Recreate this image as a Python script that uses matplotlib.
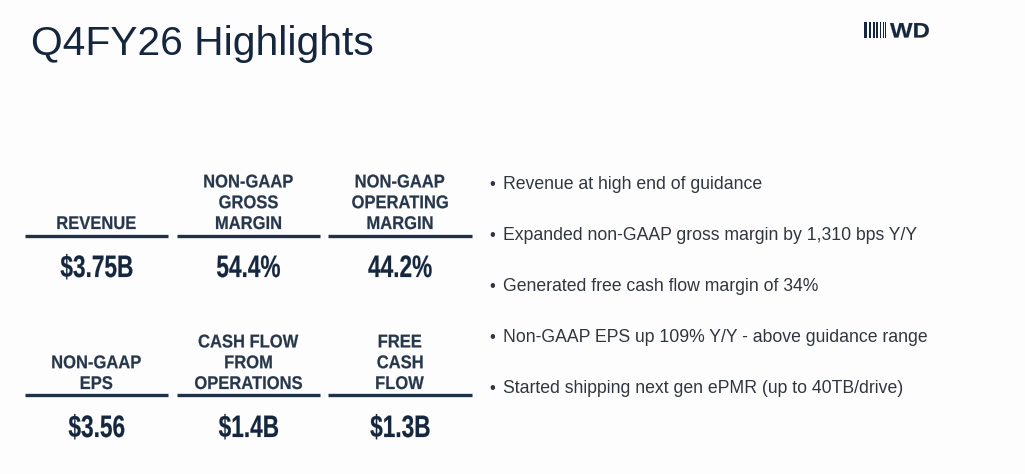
import matplotlib
matplotlib.use("Agg")
import matplotlib.pyplot as plt
from matplotlib.patches import Rectangle, PathPatch
from matplotlib.textpath import TextPath
from matplotlib.font_manager import FontProperties
from matplotlib.transforms import Affine2D

# ---- content ----
title = "Q4FY26 Highlights"
logo_text = "WD"
top_labels = [["REVENUE"], ["NON-GAAP", "GROSS", "MARGIN"], ["NON-GAAP", "OPERATING", "MARGIN"]]
top_values = ["$3.75B", "54.4%", "44.2%"]
bottom_labels = [["NON-GAAP", "EPS"], ["CASH FLOW", "FROM", "OPERATIONS"], ["FREE", "CASH", "FLOW"]]
bottom_values = ["$3.56", "$1.4B", "$1.3B"]
bullets = [
    "Revenue at high end of guidance",
    "Expanded non-GAAP gross margin by 1,310 bps Y/Y",
    "Generated free cash flow margin of 34%",
    "Non-GAAP EPS up 109% Y/Y - above guidance range",
    "Started shipping next gen ePMR (up to 40TB/drive)",
]

W, H = 1025, 474
NAVY = "#15273e"
LABEL = "#26364b"
LINE = "#1e3149"
BULLET = "#30363f"

fig = plt.figure(figsize=(W / 100, H / 100), dpi=100)
fig.patch.set_facecolor("#fdfdfd")
ax = fig.add_axes([0, 0, 1, 1])
ax.set_xlim(0, W)
ax.set_ylim(H, 0)
ax.axis("off")

SANS = ["Liberation Sans", "DejaVu Sans"]
BOLD = FontProperties(family="Liberation Sans", weight="bold")


def path_text(x, y, s, px, sx, color, ha="center", prop=BOLD):
    """Text drawn as a path (real glyph outlines) with horizontal condensing."""
    tp = TextPath((0, 0), s, size=px, prop=prop)
    bb = tp.get_extents()
    if ha == "center":
        off = -(bb.x0 + bb.width / 2) * sx
    elif ha == "left":
        off = -bb.x0 * sx
    else:
        off = -bb.x1 * sx
    tr = Affine2D().scale(sx, -1).translate(x + off, y) + ax.transData
    ax.add_patch(PathPatch(tp, transform=tr, facecolor=color, edgecolor=color, lw=0.15))


# title
ax.text(31, 55, title, fontsize=29.3, color=NAVY, family=SANS, va="baseline", ha="left")

# logo
bar_specs = [(864, 3.3), (868.5, 2.7), (872.5, 2.3), (876.3, 1.9), (879.6, 1.6), (882.6, 1.3), (885.3, 1.0)]
for bx, bw in bar_specs:
    ax.add_patch(Rectangle((bx, 22), bw, 15.5, color=NAVY, lw=0))
path_text(890, 37.5, logo_text, 21, 1.14, NAVY, ha="left")

# KPI blocks
col_spans = [(25, 168), (177, 320), (328, 472)]
label_step = 20.8


def draw_row(labels, values, line_y, last_base, value_base):
    for (x0, x1), lab, val in zip(col_spans, labels, values):
        cx = (x0 + x1) / 2
        n = len(lab)
        for i, s in enumerate(lab):
            y = last_base - (n - 1 - i) * label_step
            path_text(cx, y, s, 18.4, 0.9, LABEL)
        ax.plot([x0, x1], [line_y, line_y], color=LINE, lw=2.4, solid_capstyle="butt")
        path_text(cx, value_base, val, 31, 0.73, NAVY)


draw_row(top_labels, top_values, 235.5, 229, 277)
draw_row(bottom_labels, bottom_values, 395, 389, 437)

# bullets
for i, b in enumerate(bullets):
    y = 189 + i * 51
    ax.text(489, y, "•", fontsize=12, color=BULLET, family=SANS, ha="left", va="baseline")
    ax.text(503, y, b, fontsize=12.7, color=BULLET, family=SANS, ha="left", va="baseline")

fig.savefig("out.png", dpi=100, facecolor=fig.get_facecolor())
